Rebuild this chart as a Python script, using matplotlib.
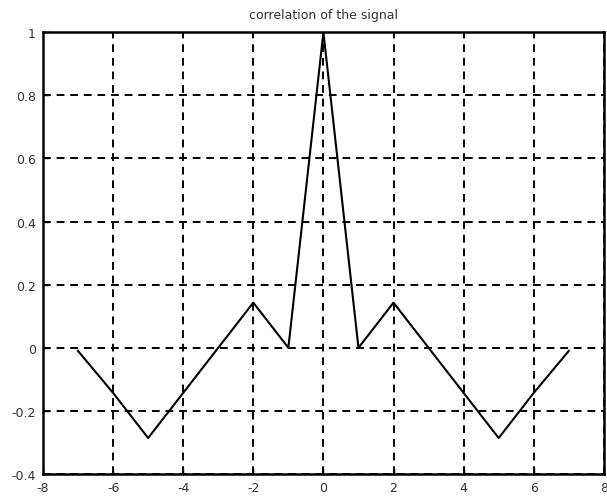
import matplotlib
matplotlib.use("Agg")
import matplotlib.pyplot as plt
import numpy as np

lags = [-7, -6, -5, -4, -3, -2, -1, 0, 1, 2, 3, 4, 5, 6, 7]
corr = [-0.01, -0.143, -0.286, -0.143, 0.0, 0.143, 0.0, 1.0, 0.0, 0.143, 0.0, -0.143, -0.286, -0.143, -0.01]
xticks = [-8, -6, -4, -2, 0, 2, 4, 6, 8]
yticks = [-0.4, -0.2, 0, 0.2, 0.4, 0.6, 0.8, 1]
yticklabels = ["-0.4", "-0.2", "0", "0.2", "0.4", "0.6", "0.8", "1"]

fig = plt.figure(figsize=(6.07, 5.02), dpi=100)
ax = fig.add_axes([0.0708, 0.0538, 0.924, 0.880])
ax.plot(lags, corr, color="black", linewidth=1.5)
ax.set_xlim(-8, 8)
ax.set_ylim(-0.4, 1)
ax.set_xticks(xticks)
ax.set_xticklabels([str(t) for t in xticks])
ax.set_yticks(yticks)
ax.set_yticklabels(yticklabels)
ax.grid(True, color="black", linestyle=(0, (4, 3)), linewidth=1.4)
ax.tick_params(direction="in", length=4, width=1, labelsize=9, colors="black", labelcolor="#333333", pad=5)
for s in ax.spines.values():
    s.set_linewidth(1.8)
ax.set_title("correlation of the signal", fontsize=9, pad=10, color="#333333")
fig.savefig("out.png", dpi=100)
